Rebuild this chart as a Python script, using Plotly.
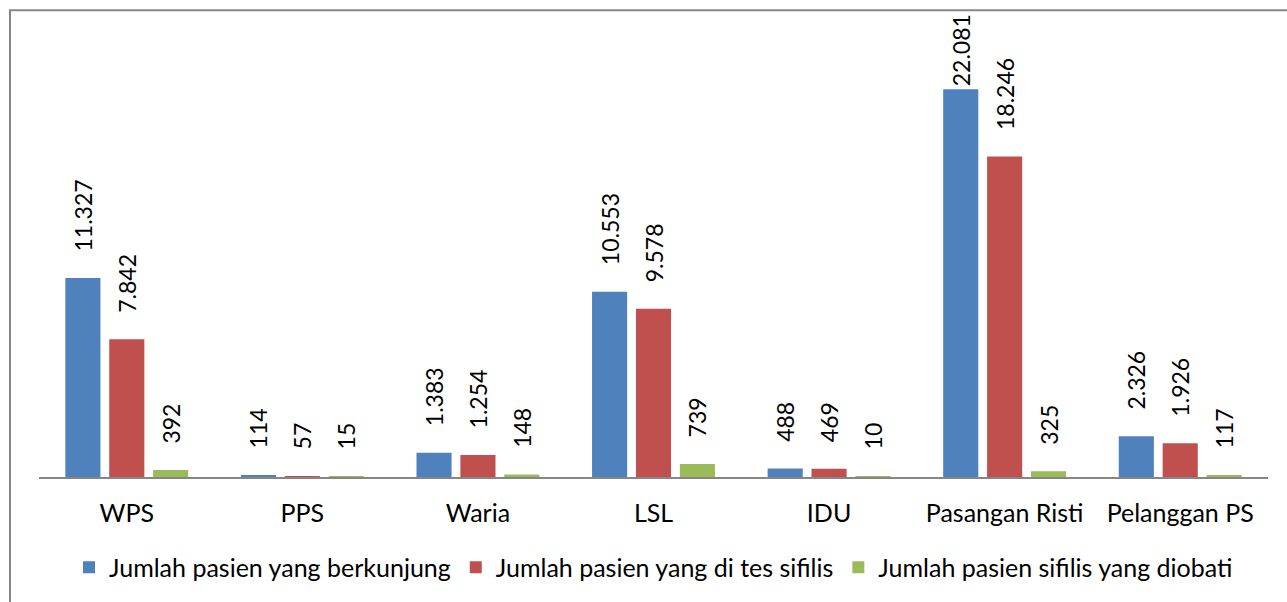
import plotly.graph_objects as go

categories = ["WPS", "PPS", "Waria", "LSL", "IDU", "Pasangan Risti", "Pelanggan PS"]
series_names = [
    "Jumlah pasien yang berkunjung",
    "Jumlah pasien yang di tes sifilis",
    "Jumlah pasien sifilis yang diobati",
]
berkunjung = [11327, 114, 1383, 10553, 488, 22081, 2326]
dites = [7842, 57, 1254, 9578, 469, 18246, 1926]
diobati = [392, 15, 148, 739, 10, 325, 117]
colors = ["#4F81BD", "#C0504D", "#9BBB59"]

FONT = "Lato, Calibri, Arial, sans-serif"
Y_MAX = 25000
PAD = "\u00a0" * 4


def fmt(v):
    s = f"{v:,}".replace(",", ".")
    # Excel pushes labels that would leave the chart area down onto the bar
    return s if v > 0.8 * Y_MAX else PAD + s


fig = go.Figure()
for name, vals, col in zip(series_names, [berkunjung, dites, diobati], colors):
    fig.add_trace(go.Bar(
        x=categories, y=vals, name=name,
        marker=dict(color=col, line=dict(width=0)),
        text=[fmt(v) for v in vals],
        textposition="outside",
        textangle=-90,
        constraintext="none",
        cliponaxis=False,
        textfont=dict(family=FONT, size=23, color="#000000"),
    ))

fig.update_layout(
    width=1287, height=602,
    margin=dict(l=39, r=19, t=38, b=123),
    paper_bgcolor="white", plot_bgcolor="white",
    barmode="group", bargap=0.25, bargroupgap=0.2,
    font=dict(family=FONT, size=25, color="#000000"),
    showlegend=True,
    legend=dict(
        orientation="h", x=0.5, xanchor="center", y=-0.206, yanchor="middle",
        font=dict(family=FONT, size=25, color="#000000"),
        bgcolor="rgba(0,0,0,0)",
    ),
    xaxis=dict(
        showline=True, linecolor="#868686", linewidth=2,
        showgrid=False, zeroline=False,
        ticks="outside", ticklen=13, tickcolor="rgba(0,0,0,0)",
        tickfont=dict(family=FONT, size=25, color="#000000"),
    ),
    yaxis=dict(visible=False, range=[0, Y_MAX], showgrid=False, zeroline=False),
    shapes=[dict(
        type="rect", xref="paper", yref="paper",
        x0=-29 / 1229, y0=-0.6, x1=1.1, y1=1 + 28 / 441,
        line=dict(color="#878787", width=2), fillcolor="rgba(0,0,0,0)", layer="below",
    )],
)

fig.write_html(
    "out.html",
    config={"displayModeBar": False},
    post_script="document.body.style.margin='0';document.body.style.overflow='hidden';",
)
